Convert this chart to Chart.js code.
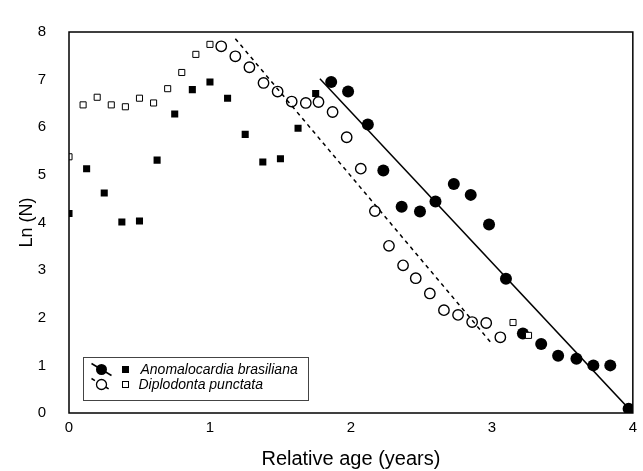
<!DOCTYPE html>
<html>
<head>
<meta charset="utf-8">
<script src="https://cdn.jsdelivr.net/npm/chart.js@4.4.0/dist/chart.umd.min.js"></script>
<style>
html, body { margin: 0; padding: 0; background: #fff; }
</style>
</head>
<body>
<canvas id="chart" width="643" height="471"></canvas>
<script>
// Anomalocardia brasiliana
const anoSqX = [0, 0.125, 0.25, 0.375, 0.5, 0.625, 0.75, 0.875, 1.0, 1.125, 1.25, 1.375, 1.5, 1.625, 1.75];
const anoSqY = [4.19, 5.13, 4.62, 4.01, 4.03, 5.31, 6.28, 6.79, 6.95, 6.61, 5.85, 5.27, 5.34, 5.98, 6.71];
const anoCircX = [1.86, 1.98, 2.12, 2.23, 2.36, 2.49, 2.60, 2.73, 2.85, 2.98, 3.10, 3.22, 3.35, 3.47, 3.60, 3.72, 3.84, 3.97];
const anoCircY = [6.95, 6.75, 6.06, 5.09, 4.33, 4.23, 4.44, 4.81, 4.58, 3.96, 2.82, 1.67, 1.45, 1.20, 1.14, 1.00, 1.00, 0.09];
const anoFitX = [1.78, 4.0];
const anoFitY = [7.02, 0.0];

// Diplodonta punctata
const dipSqX = [0, 0.1, 0.2, 0.3, 0.4, 0.5, 0.6, 0.7, 0.8, 0.9, 1.0, 3.15, 3.26];
const dipSqY = [5.38, 6.47, 6.63, 6.47, 6.43, 6.61, 6.51, 6.81, 7.15, 7.53, 7.74, 1.90, 1.63];
const dipCircX = [1.08, 1.18, 1.28, 1.38, 1.48, 1.58, 1.68, 1.77, 1.87, 1.97, 2.07, 2.17, 2.27, 2.37, 2.46, 2.56, 2.66, 2.76, 2.86, 2.96, 3.06];
const dipCircY = [7.70, 7.49, 7.26, 6.93, 6.75, 6.54, 6.51, 6.53, 6.32, 5.79, 5.13, 4.24, 3.51, 3.10, 2.83, 2.51, 2.16, 2.06, 1.91, 1.89, 1.59];
const dipFitX = [1.18, 2.99];
const dipFitY = [7.86, 1.49];

const xTicks = [0, 1, 2, 3, 4];
const yTicks = [0, 1, 2, 3, 4, 5, 6, 7, 8];
const legendNames = ['Anomalocardia brasiliana', 'Diplodonta punctata'];

function pts(xs, ys) {
    return xs.map(function (x, i) { return { x: x, y: ys[i] }; });
}

Chart.defaults.font.family = '"Liberation Sans", Arial, sans-serif';
Chart.defaults.color = '#000';

// box around the plot area
const frame = {
    id: 'frame',
    afterDatasetsDraw(chart) {
        const a = chart.chartArea;
        const ctx = chart.ctx;
        ctx.save();
        ctx.strokeStyle = '#000';
        ctx.lineWidth = 1.5;
        ctx.strokeRect(a.left, a.top, a.right - a.left, a.bottom - a.top);
        ctx.restore();
    }
};

// legend with line + circle + square symbols
const boxLegend = {
    id: 'boxLegend',
    afterDraw(chart) {
        const a = chart.chartArea;
        const ctx = chart.ctx;
        const bx = a.left + 14.5, by = a.bottom - 55.5;
        ctx.save();
        ctx.fillStyle = '#fff';
        ctx.fillRect(bx, by, 225, 43);
        ctx.strokeStyle = '#444';
        ctx.lineWidth = 1;
        ctx.strokeRect(bx, by, 225, 43);

        const cx = bx + 18, sx = bx + 42, tx = bx + 57;
        const rows = [by + 12, by + 27];

        ctx.strokeStyle = '#000';
        ctx.lineWidth = 1.5;
        // row 1: solid line, filled circle, filled square
        ctx.beginPath();
        ctx.moveTo(cx - 10, rows[0] - 6);
        ctx.lineTo(cx + 10, rows[0] + 6);
        ctx.stroke();
        ctx.fillStyle = '#000';
        ctx.beginPath();
        ctx.arc(cx, rows[0], 5.5, 0, Math.PI * 2);
        ctx.fill();
        ctx.fillRect(sx - 3.5, rows[0] - 3.5, 7, 7);

        // row 2: dashed line, open circle, open square
        ctx.setLineDash([4, 4]);
        ctx.beginPath();
        ctx.moveTo(cx - 10, rows[1] - 6);
        ctx.lineTo(cx + 10, rows[1] + 6);
        ctx.stroke();
        ctx.setLineDash([]);
        ctx.fillStyle = '#fff';
        ctx.beginPath();
        ctx.arc(cx, rows[1], 5, 0, Math.PI * 2);
        ctx.fill();
        ctx.lineWidth = 1.3;
        ctx.stroke();
        ctx.lineWidth = 1;
        ctx.fillRect(sx - 3, rows[1] - 3, 6, 6);
        ctx.strokeRect(sx - 3, rows[1] - 3, 6, 6);

        ctx.fillStyle = '#000';
        ctx.font = 'italic 14px "Liberation Sans", Arial, sans-serif';
        ctx.textBaseline = 'middle';
        ctx.fillText(legendNames[0], tx, rows[0] + 1);
        ctx.fillText(legendNames[1], tx - 2, rows[1] + 1);
        ctx.restore();
    }
};

const ctx = document.getElementById('chart').getContext('2d');
const chart = new Chart(ctx, {
    type: 'scatter',
    data: {
        datasets: [{
            label: 'Diplodonta punctata fit',
            type: 'line',
            data: pts(dipFitX, dipFitY),
            borderColor: '#000',
            borderWidth: 1.5,
            borderDash: [4, 4],
            pointRadius: 0,
            fill: false,
            clip: 0
        }, {
            label: 'Anomalocardia brasiliana fit',
            type: 'line',
            data: pts(anoFitX, anoFitY),
            borderColor: '#000',
            borderWidth: 1.5,
            pointRadius: 0,
            fill: false,
            clip: 0
        }, {
            label: 'Diplodonta punctata',
            data: pts(dipSqX, dipSqY),
            pointStyle: 'rect',
            pointRadius: 4.3,
            backgroundColor: '#fff',
            borderColor: '#000',
            borderWidth: 1,
            clip: 0
        }, {
            label: 'Diplodonta punctata (decline)',
            data: pts(dipCircX, dipCircY),
            pointStyle: 'circle',
            pointRadius: 5.2,
            backgroundColor: 'rgba(255,255,255,0)',
            borderColor: '#000',
            borderWidth: 1.4,
            clip: 0
        }, {
            label: 'Anomalocardia brasiliana',
            data: pts(anoSqX, anoSqY),
            pointStyle: 'rect',
            pointRadius: 5,
            backgroundColor: '#000',
            borderColor: '#000',
            borderWidth: 0,
            clip: 0
        }, {
            label: 'Anomalocardia brasiliana (decline)',
            data: pts(anoCircX, anoCircY),
            pointStyle: 'circle',
            pointRadius: 6,
            backgroundColor: '#000',
            borderColor: '#000',
            borderWidth: 0,
            clip: 0
        }]
    },
    options: {
        responsive: false,
        animation: false,
        layout: { padding: { top: 16, right: 8, left: 0, bottom: 0 } },
        plugins: {
            legend: { display: false },
            tooltip: { enabled: false }
        },
        scales: {
            x: {
                type: 'linear',
                min: 0,
                max: 4,
                afterBuildTicks: function (scale) {
                    scale.ticks = xTicks.map(function (v) { return { value: v }; });
                },
                afterFit: function (scale) { scale.height = 58; },
                grid: { display: false, drawTicks: false },
                border: { display: false },
                ticks: { font: { size: 15 }, padding: 6, maxRotation: 0 },
                title: {
                    display: true,
                    text: 'Relative age (years)',
                    font: { size: 20 },
                    padding: { top: 0, bottom: 0 }
                }
            },
            y: {
                type: 'linear',
                min: 0,
                max: 8,
                afterBuildTicks: function (scale) {
                    scale.ticks = yTicks.map(function (v) { return { value: v }; });
                },
                afterFit: function (scale) { scale.width = 69; },
                grid: { display: false, drawTicks: false },
                border: { display: false },
                ticks: { font: { size: 15 }, padding: 23 },
                title: {
                    display: true,
                    text: 'Ln (N)',
                    font: { size: 18 },
                    padding: { top: 16, bottom: 0 }
                }
            }
        }
    },
    plugins: [frame, boxLegend]
});
</script>
</body>
</html>
